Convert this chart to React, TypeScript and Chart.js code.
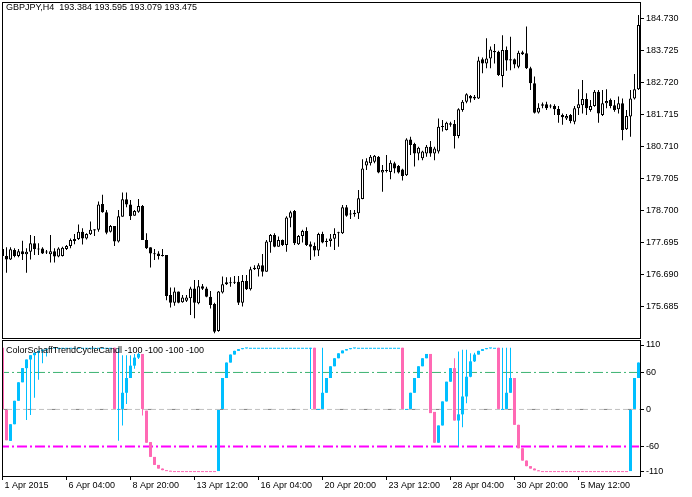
import React, { useEffect, useRef } from "react";
import { Chart, registerables } from "chart.js";

Chart.register(...registerables);

// ---------- text ----------
const symbolTitle = "GBPJPY,H4  193.384 193.595 193.079 193.475";
const indicatorTitle = "ColorSchaffTrendCycleCandl -100 -100 -100 -100";

// ---------- time axis ----------
const timeTickIndex = [0, 16, 32, 48, 64, 80, 96, 112, 128, 144];
const timeTickLabels = [
  "1 Apr 2015", "6 Apr 04:00", "8 Apr 20:00", "13 Apr 12:00", "16 Apr 04:00",
  "20 Apr 20:00", "23 Apr 12:00", "28 Apr 04:00", "30 Apr 20:00", "5 May 12:00",
];

// ---------- price axis ----------
const priceTicks = [175.685, 176.69, 177.695, 178.7, 179.705, 180.71, 181.715, 182.72, 183.725, 184.73];
const priceMin = 174.68;
const priceMax = 185.211;

// ---------- GBPJPY H4 candles ----------
const priceOpen = [
  177.48, 177.26, 177.15, 177.45, 177.26, 177.41, 177.31, 177.39, 177.66, 177.48,
  177.49, 177.39, 177.31, 177.41, 177.24, 177.26, 177.48, 177.57, 177.73, 177.79,
  178.02, 177.81, 177.94, 178.06, 178.08, 178.89, 178.63, 178.02, 178.20, 177.71,
  178.49, 179.04, 178.88, 178.52, 178.65, 178.83, 177.76, 177.53, 177.34, 177.34,
  177.29, 177.29, 176.03, 175.79, 176.14, 175.80, 175.85, 175.93, 176.24, 175.77,
  176.31, 176.24, 175.98, 175.75, 174.90, 176.11, 176.37, 176.43, 176.42, 176.45,
  175.79, 176.47, 176.21, 176.84, 176.84, 176.97, 176.76, 177.69, 177.92, 177.55,
  177.76, 177.60, 178.46, 178.67, 177.63, 177.89, 178.04, 177.63, 177.57, 177.43,
  177.95, 177.73, 177.73, 177.80, 177.99, 177.97, 178.79, 178.56, 178.57, 178.60,
  179.05, 180.10, 180.17, 180.22, 180.38, 179.88, 179.95, 179.90, 180.17, 180.09,
  179.98, 179.80, 180.92, 180.78, 180.48, 180.33, 180.48, 180.69, 180.48, 180.54,
  181.31, 181.22, 181.43, 181.41, 181.03, 181.85, 182.11, 182.29, 182.21, 182.21,
  183.44, 183.31, 183.47, 183.70, 183.68, 182.92, 183.73, 183.44, 183.44, 183.21,
  183.66, 183.63, 183.16, 182.69, 181.77, 181.98, 182.03, 181.96, 181.97, 181.88,
  181.69, 181.58, 181.69, 181.48, 181.90, 182.00, 182.19, 181.85, 181.97, 182.42,
  181.69, 182.06, 182.16, 182.00, 181.87, 182.06, 181.24, 181.64, 182.21, 182.50,
];
const priceHigh = [
  177.55, 177.53, 177.53, 177.50, 177.48, 177.74, 177.50, 177.92, 177.89, 177.66,
  177.53, 177.45, 177.92, 177.50, 177.53, 177.55, 177.60, 177.81, 177.95, 178.25,
  178.13, 177.97, 178.34, 178.10, 178.97, 179.18, 178.70, 178.23, 178.20, 178.70,
  179.25, 179.25, 179.02, 178.70, 179.05, 178.86, 177.97, 177.53, 177.48, 177.41,
  177.48, 177.29, 176.27, 176.27, 176.14, 176.03, 176.03, 176.29, 176.50, 176.50,
  176.38, 176.29, 176.16, 175.79, 176.16, 176.61, 176.59, 176.59, 176.63, 176.63,
  176.66, 176.66, 176.92, 176.97, 177.03, 177.32, 177.76, 177.95, 177.97, 177.87,
  177.78, 178.51, 178.68, 178.70, 177.92, 178.08, 178.16, 177.71, 177.68, 177.99,
  178.02, 177.81, 177.95, 178.13, 178.02, 178.86, 178.86, 178.70, 178.70, 179.33,
  180.30, 180.33, 180.43, 180.43, 180.40, 180.12, 180.43, 180.27, 180.22, 180.12,
  180.00, 180.96, 181.01, 180.82, 180.69, 180.57, 180.75, 180.87, 180.69, 181.58,
  181.53, 181.48, 181.48, 181.53, 181.90, 182.16, 182.37, 182.32, 182.32, 183.52,
  183.50, 184.10, 183.84, 183.92, 183.71, 184.20, 183.84, 184.15, 183.47, 183.71,
  183.71, 184.47, 183.21, 182.90, 182.06, 182.08, 182.11, 182.03, 182.03, 181.97,
  181.74, 181.72, 181.72, 181.97, 182.50, 182.79, 182.37, 182.16, 182.48, 182.48,
  182.48, 182.50, 182.21, 182.16, 182.27, 182.21, 181.85, 182.48, 182.98, 184.83,
];
const priceLow = [
  177.24, 176.73, 177.13, 177.22, 177.22, 177.13, 176.73, 177.15, 177.29, 177.29,
  177.32, 177.32, 177.05, 177.05, 177.22, 177.24, 177.45, 177.50, 177.63, 177.76,
  177.62, 177.78, 177.92, 177.89, 178.02, 178.62, 177.94, 178.00, 177.57, 177.68,
  178.49, 178.79, 178.39, 178.52, 178.62, 177.76, 177.48, 176.90, 177.13, 177.15,
  177.24, 175.87, 175.64, 175.69, 175.77, 175.79, 175.81, 175.40, 175.30, 175.74,
  176.19, 175.96, 175.61, 174.83, 174.88, 176.08, 176.35, 176.29, 176.38, 175.72,
  175.67, 176.19, 176.17, 176.82, 176.61, 176.61, 176.76, 177.36, 177.53, 177.55,
  177.57, 177.39, 178.16, 177.60, 177.60, 177.68, 177.57, 177.13, 177.24, 177.26,
  177.66, 177.55, 177.55, 177.45, 177.55, 177.95, 178.49, 178.42, 178.49, 178.42,
  179.04, 179.96, 180.10, 180.17, 179.86, 179.28, 179.88, 179.67, 179.86, 179.85,
  179.63, 179.77, 180.43, 180.07, 180.27, 180.27, 180.38, 180.38, 180.27, 180.48,
  181.17, 181.20, 181.32, 180.64, 180.96, 181.79, 182.06, 182.08, 182.16, 182.19,
  183.00, 183.16, 183.16, 183.31, 182.92, 182.56, 183.08, 183.10, 183.16, 183.16,
  183.58, 183.14, 182.48, 181.74, 181.74, 181.90, 181.85, 181.90, 181.69, 181.45,
  181.38, 181.53, 181.43, 181.40, 181.69, 181.74, 181.69, 181.79, 181.95, 181.45,
  181.66, 181.90, 181.90, 181.79, 181.74, 180.90, 181.22, 181.01, 182.18, 182.48,
];
const priceClose = [
  177.26, 177.15, 177.47, 177.26, 177.41, 177.31, 177.39, 177.66, 177.47, 177.46,
  177.34, 177.37, 177.41, 177.24, 177.49, 177.52, 177.57, 177.76, 177.79, 178.02,
  177.81, 177.95, 178.08, 178.10, 178.88, 178.63, 177.99, 178.20, 177.71, 178.51,
  179.04, 178.88, 178.51, 178.67, 178.83, 177.76, 177.50, 177.34, 177.31, 177.26,
  177.26, 176.00, 175.79, 176.14, 175.79, 175.95, 175.95, 176.24, 175.79, 176.31,
  176.23, 175.98, 175.72, 174.88, 176.14, 176.37, 176.43, 176.40, 176.43, 175.79,
  176.47, 176.21, 176.84, 176.89, 176.97, 176.76, 177.71, 177.92, 177.55, 177.76,
  177.60, 178.47, 178.63, 177.66, 177.89, 178.04, 177.60, 177.55, 177.43, 177.95,
  177.68, 177.70, 177.81, 177.95, 177.97, 178.79, 178.52, 178.59, 178.62, 179.07,
  180.01, 180.24, 180.38, 180.41, 179.88, 179.96, 179.93, 180.19, 180.01, 179.88,
  179.77, 180.92, 180.75, 180.48, 180.66, 180.54, 180.69, 180.48, 180.64, 181.32,
  181.33, 181.45, 181.38, 181.03, 181.87, 182.11, 182.34, 182.21, 182.26, 183.40,
  183.31, 183.47, 183.75, 183.66, 182.95, 183.73, 183.40, 183.40, 183.28, 183.65,
  183.60, 183.16, 182.69, 181.76, 181.92, 182.03, 181.90, 181.98, 181.87, 181.69,
  181.62, 181.66, 181.50, 181.90, 182.03, 182.19, 181.90, 181.97, 182.42, 181.74,
  182.06, 182.13, 181.97, 181.85, 182.06, 181.22, 181.66, 182.21, 182.50, 184.52,
];

// ---------- Schaff Trend Cycle colour candles ----------
const stcOpen = [
  100, 0, -51, -24, 14, 44, 67, 81, 88, 92,
  95, 97, 98, 99, 100, 100, 100, 100, 100, 100,
  100, 100, 100, 100, 100, 100, 100, 100, 100, 0,
  0, 27, 51, 71, 84, 90, -2, -53, -77, -90,
  -96, -98.5, -99.5, -100, -100, -100, -100, -100, -100, -100,
  -100, -100, -100, -100, -100, 0, 51, 76, 89, 95,
  97.8, 99, 100, 100, 100, 100, 100, 100, 100, 100,
  100, 100, 100, 100, 100, 100, 100, 100, 100, 0,
  0, 27, 51, 70, 83, 91, 95.6, 97.8, 99, 100,
  100, 100, 100, 100, 100, 100, 100, 100, 100, 100,
  100, 0, 0, 27, 51, 70, 83, 90, -4, -54,
  -26, 13, 45, 67, -18, -8, 21, 53, 78, 89,
  95, 97.8, 99, 100, 100, 0, 0, 27, 51, -25,
  -63, -83, -92, -96, -98.8, -100, -100, -100, -100, -100,
  -100, -100, -100, -100, -100, -100, -100, -100, -100, -100,
  -100, -100, -100, -100, -100, -100, -100, -100, 0, 51,
];
const stcHigh = [
  100, 0, -24, 14, 44, 67, 81, 88, 92, 95,
  97, 98, 99, 100, 100, 100, 100, 100, 100, 100,
  100, 100, 100, 100, 100, 100, 100, 100, 100, 100,
  88, 88, 88, 90, 92, 90, -2, -53, -77, -90,
  -96, -98.5, -99.5, -100, -100, -100, -100, -100, -100, -100,
  -100, -100, -100, -100, 0, 51, 76, 89, 95, 97.8,
  99, 99.8, 100, 100, 100, 100, 100, 100, 100, 100,
  100, 100, 100, 100, 100, 100, 100, 100, 100, 0,
  100, 51, 70, 83, 91, 95.6, 97.8, 99, 99.8, 100,
  100, 100, 100, 100, 100, 100, 100, 100, 100, 100,
  100, 0, 27, 51, 70, 83, 90, 90, -4, -26,
  13, 45, 67, 83, 94, 97, 97, 91, 92, 95,
  97.8, 99, 99.8, 100, 100, 100, 100, 100, 51, -25,
  -63, -83, -92, -96, -98.8, -100, -100, -100, -100, -100,
  -100, -100, -100, -100, -100, -100, -100, -100, -100, -100,
  -100, -100, -100, -100, -100, -100, -100, 0, 51, 76,
];
const stcLow = [
  0, -50, -51, -24, 14, 44, -17, -9, 19, 48,
  75, 86, 98, 99, 100, 100, 100, 100, 100, 100,
  100, 100, 100, 100, 100, 100, 100, 100, 0, -51,
  -26, 9, 51, 66, 82, -10, -54, -77, -90, -96,
  -98.5, -99.5, -100, -100, -100, -100, -100, -100, -100, -100,
  -100, -100, -100, -100, -100, 0, 51, 76, 89, 95,
  97.8, 99, 100, 100, 100, 100, 100, 100, 100, 100,
  100, 100, 100, 100, 100, 100, 100, 0, 0, 0,
  0, 27, 51, 70, 83, 91, 95.6, 97.8, 99, 100,
  100, 100, 100, 100, 100, 100, 100, 100, 100, 100,
  0, 0, 0, 27, 51, 70, 83, -6, -54, -54,
  -26, 13, 45, -18, -60, -29, 10, 52, 77, 89,
  95, 97.8, 99, 100, 0, 0, 0, 27, -25, -63,
  -83, -92, -96, -98.8, -99.8, -100, -100, -100, -100, -100,
  -100, -100, -100, -100, -100, -100, -100, -100, -100, -100,
  -100, -100, -100, -100, -100, -100, -100, -100, 0, 51,
];
const stcClose = [
  0, -50, -24, 14, 44, 67, 81, 88, 92, 95,
  97, 98, 99, 100, 100, 100, 100, 100, 100, 100,
  100, 100, 100, 100, 100, 100, 100, 100, 0, 0,
  27, 51, 71, 84, 90, 0, -54, -77, -90, -96,
  -98.5, -99.5, -100, -100, -100, -100, -100, -100, -100, -100,
  -100, -100, -100, -100, 0, 51, 76, 89, 95, 97.8,
  99, 99.8, 100, 100, 100, 100, 100, 100, 100, 100,
  100, 100, 100, 100, 100, 100, 100, 100, 0, 0,
  27, 51, 70, 83, 91, 95.6, 97.8, 99, 99.8, 100,
  100, 100, 100, 100, 100, 100, 100, 100, 100, 100,
  0, 0, 27, 51, 70, 83, 90, -6, -54, -26,
  13, 45, 67, -18, -8, 21, 53, 78, 89, 95,
  97.8, 99, 99.8, 100, 0, 0, 27, 51, -25, -63,
  -83, -92, -96, -98.8, -99.8, -100, -100, -100, -100, -100,
  -100, -100, -100, -100, -100, -100, -100, -100, -100, -100,
  -100, -100, -100, -100, -100, -100, -100, 0, 51, 76,
];
// 0 = rising (blue), 1 = falling (pink)
const stcColorIndex = [
  1, 1, 0, 0, 0, 0, 0, 0, 0, 0,
  0, 0, 0, 0, 0, 0, 0, 0, 0, 0,
  0, 0, 0, 0, 0, 0, 0, 0, 1, 0,
  0, 0, 0, 0, 0, 1, 1, 1, 1, 1,
  1, 1, 1, 1, 1, 1, 1, 1, 1, 1,
  1, 1, 1, 1, 0, 0, 0, 0, 0, 0,
  0, 0, 0, 0, 0, 0, 0, 0, 0, 0,
  0, 0, 0, 0, 0, 0, 0, 0, 1, 0,
  0, 0, 0, 0, 0, 0, 0, 0, 0, 0,
  0, 0, 0, 0, 0, 0, 0, 0, 0, 0,
  1, 0, 0, 0, 0, 0, 0, 1, 1, 0,
  0, 0, 0, 1, 0, 0, 0, 0, 0, 0,
  0, 0, 0, 0, 1, 0, 0, 0, 1, 1,
  1, 1, 1, 1, 1, 1, 1, 1, 1, 1,
  1, 1, 1, 1, 1, 1, 1, 1, 1, 1,
  1, 1, 1, 1, 1, 1, 1, 0, 0, 0,
];

// indicator axis / levels
const stcMin = -108;
const stcMax = 111;
const stcTickValues = [110, 60, 0, -60, -110];
const stcTickLabels = ["110", "60", "0", "-60", "-110"];
const stcLevels = [60, 0, -60];

// ---------- styles ----------
const FONT = '"Liberation Sans", Arial, sans-serif';
const STC_COLORS = ["#00BFFF", "#FF69B4"];
const X_MIN = 0.125;
const X_MAX = 159.375;
const LABEL_INSET = 6.5; // value units that keep edge labels inside the pane

Chart.defaults.font.family = FONT;

const framePlugin = (top: number, height: number, text: string, baseline: number) => ({
  id: "mtFrame",
  afterDraw(chart: any) {
    const ctx = chart.ctx;
    ctx.save();
    ctx.strokeStyle = "#000";
    ctx.lineWidth = 1;
    ctx.strokeRect(2.5, top + 0.5, 638, height);
    ctx.fillStyle = "#000";
    ctx.font = `9px ${FONT}`;
    ctx.textAlign = "left";
    ctx.textBaseline = "alphabetic";
    ctx.fillText(text, 6, baseline);
    ctx.restore();
  },
});

const axisGrid = { drawOnChartArea: false, drawTicks: true, tickLength: 4, color: "#000", lineWidth: 1, offset: false };
const axisBorder = { display: true, color: "#000", width: 1 };
const tickFont = { family: FONT, size: 9 };

export default function App() {
  const topRef = useRef<HTMLCanvasElement>(null);
  const botRef = useRef<HTMLCanvasElement>(null);

  useEffect(() => {
    const idx = priceOpen.map((_, i) => i);

    const priceChart = new Chart(topRef.current as HTMLCanvasElement, {
      type: "bar",
      data: {
        datasets: [
          {
            data: idx.map((i) => ({ x: i, y: [priceOpen[i], priceClose[i]] })),
            backgroundColor: idx.map((i) => (priceClose[i] >= priceOpen[i] ? "#ffffff" : "#000000")),
            borderColor: "#000000",
            borderWidth: 1,
            borderSkipped: false,
            grouped: false,
            maxBarThickness: 3,
            barPercentage: 1,
            categoryPercentage: 1,
            minBarLength: 1,
            inflateAmount: 0,
            order: 0,
            clip: 0,
          } as any,
          {
            data: idx.map((i) => ({ x: i, y: [priceLow[i], priceHigh[i]] })),
            backgroundColor: "#000000",
            borderWidth: 0,
            grouped: false,
            maxBarThickness: 1,
            barPercentage: 1,
            categoryPercentage: 1,
            inflateAmount: 0,
            order: 1,
            clip: 0,
          } as any,
        ],
      },
      options: {
        responsive: false,
        animation: false,
        devicePixelRatio: 1,
        events: [],
        layout: { autoPadding: false, padding: { top: 3, left: 3, right: 0, bottom: 2 } },
        plugins: { legend: { display: false }, tooltip: { enabled: false }, title: { display: false } },
        scales: {
          x: { type: "linear", min: X_MIN, max: X_MAX, display: false, offset: false, grid: { offset: false } },
          y: {
            type: "linear",
            position: "right",
            min: priceMin,
            max: priceMax,
            beginAtZero: false,
            afterBuildTicks: (s: any) => {
              s.ticks = priceTicks.map((v) => ({ value: v }));
            },
            afterFit: (s: any) => {
              s.width = 52;
              s.paddingTop = 0;
              s.paddingBottom = 0;
            },
            ticks: {
              autoSkip: false,
              padding: 2,
              color: "#000",
              font: tickFont,
              callback: (v: any) => Number(v).toFixed(3),
            },
            grid: axisGrid,
            border: axisBorder,
          },
        },
      } as any,
      plugins: [framePlugin(2, 336, symbolTitle, 10)],
    });

    const stcIdx = stcOpen.map((_, i) => i);
    const levelDatasets = [
      { v: stcLevels[0], color: "#3CB371", width: 1, dash: [10, 3, 2, 3], dashOffset: 0 },
      { v: stcLevels[1], color: "#C0C0C0", width: 1, dash: [5, 3], dashOffset: 0 },
      { v: stcLevels[1], color: "#808080", width: 1, dash: [4, 20], dashOffset: 19 },
      { v: stcLevels[2], color: "#FF00FF", width: 2, dash: [10, 3, 2, 3], dashOffset: 0 },
    ].map((l, k) => ({
      type: "line",
      data: [
        { x: X_MIN - 1, y: l.v },
        { x: X_MAX + 1, y: l.v },
      ],
      borderColor: l.color,
      borderWidth: l.width,
      borderDash: l.dash,
      borderDashOffset: l.dashOffset,
      pointRadius: 0,
      fill: false,
      order: 10 + k,
      clip: 0,
    }));

    const stcChart = new Chart(botRef.current as HTMLCanvasElement, {
      type: "bar",
      data: {
        datasets: [
          {
            data: stcIdx.map((i) => ({ x: i, y: [stcOpen[i], stcClose[i]] })),
            backgroundColor: stcIdx.map((i) => STC_COLORS[stcColorIndex[i]]),
            borderWidth: 0,
            grouped: false,
            maxBarThickness: 3,
            barPercentage: 1,
            categoryPercentage: 1,
            minBarLength: 1,
            inflateAmount: 0,
            order: 0,
            clip: 0,
          } as any,
          {
            data: stcIdx.map((i) => ({ x: i, y: [stcLow[i], stcHigh[i]] })),
            backgroundColor: stcIdx.map((i) => STC_COLORS[stcColorIndex[i]]),
            borderWidth: 0,
            grouped: false,
            maxBarThickness: 1,
            barPercentage: 1,
            categoryPercentage: 1,
            inflateAmount: 0,
            order: 1,
            clip: 0,
          } as any,
          ...(levelDatasets as any[]),
        ],
      },
      options: {
        responsive: false,
        animation: false,
        devicePixelRatio: 1,
        events: [],
        layout: { autoPadding: false, padding: { top: 1, left: 3, right: 0, bottom: 0 } },
        plugins: { legend: { display: false }, tooltip: { enabled: false }, title: { display: false } },
        scales: {
          x: {
            type: "linear",
            position: "bottom",
            min: X_MIN,
            max: X_MAX,
            offset: false,
            afterBuildTicks: (s: any) => {
              s.ticks = timeTickIndex.map((v) => ({ value: v }));
            },
            afterFit: (s: any) => {
              s.height = 21;
              s.paddingLeft = 0;
              s.paddingRight = 0;
            },
            ticks: {
              autoSkip: false,
              maxRotation: 0,
              minRotation: 0,
              align: "start",
              labelOffset: 2,
              padding: 0,
              color: "#000",
              font: tickFont,
              callback: (_v: any, i: number) => timeTickLabels[i],
            },
            grid: axisGrid,
            border: axisBorder,
          },
          y: {
            type: "linear",
            position: "right",
            min: stcMin,
            max: stcMax,
            beginAtZero: false,
            afterBuildTicks: (s: any) => {
              s.ticks = stcTickValues.map((v) => ({
                value: Math.max(stcMin + LABEL_INSET, Math.min(stcMax - LABEL_INSET, v)),
              }));
            },
            afterFit: (s: any) => {
              s.width = 52;
              s.paddingTop = 0;
              s.paddingBottom = 0;
            },
            ticks: {
              autoSkip: false,
              padding: 2,
              color: "#000",
              font: tickFont,
              callback: (_v: any, i: number) => stcTickLabels[i],
            },
            grid: axisGrid,
            border: axisBorder,
          },
        },
      } as any,
      plugins: [framePlugin(0, 136, indicatorTitle, 13)],
    });

    return () => {
      priceChart.destroy();
      stcChart.destroy();
    };
  }, []);

  return (
    <div style={{ position: "fixed", left: 0, top: 0, width: 692, height: 497, background: "#ffffff", overflow: "hidden" }}>
      <canvas ref={topRef} width={692} height={340} style={{ position: "absolute", left: 0, top: 0, width: 692, height: 340 }} />
      <canvas ref={botRef} width={692} height={157} style={{ position: "absolute", left: 0, top: 340, width: 692, height: 157 }} />
    </div>
  );
}
